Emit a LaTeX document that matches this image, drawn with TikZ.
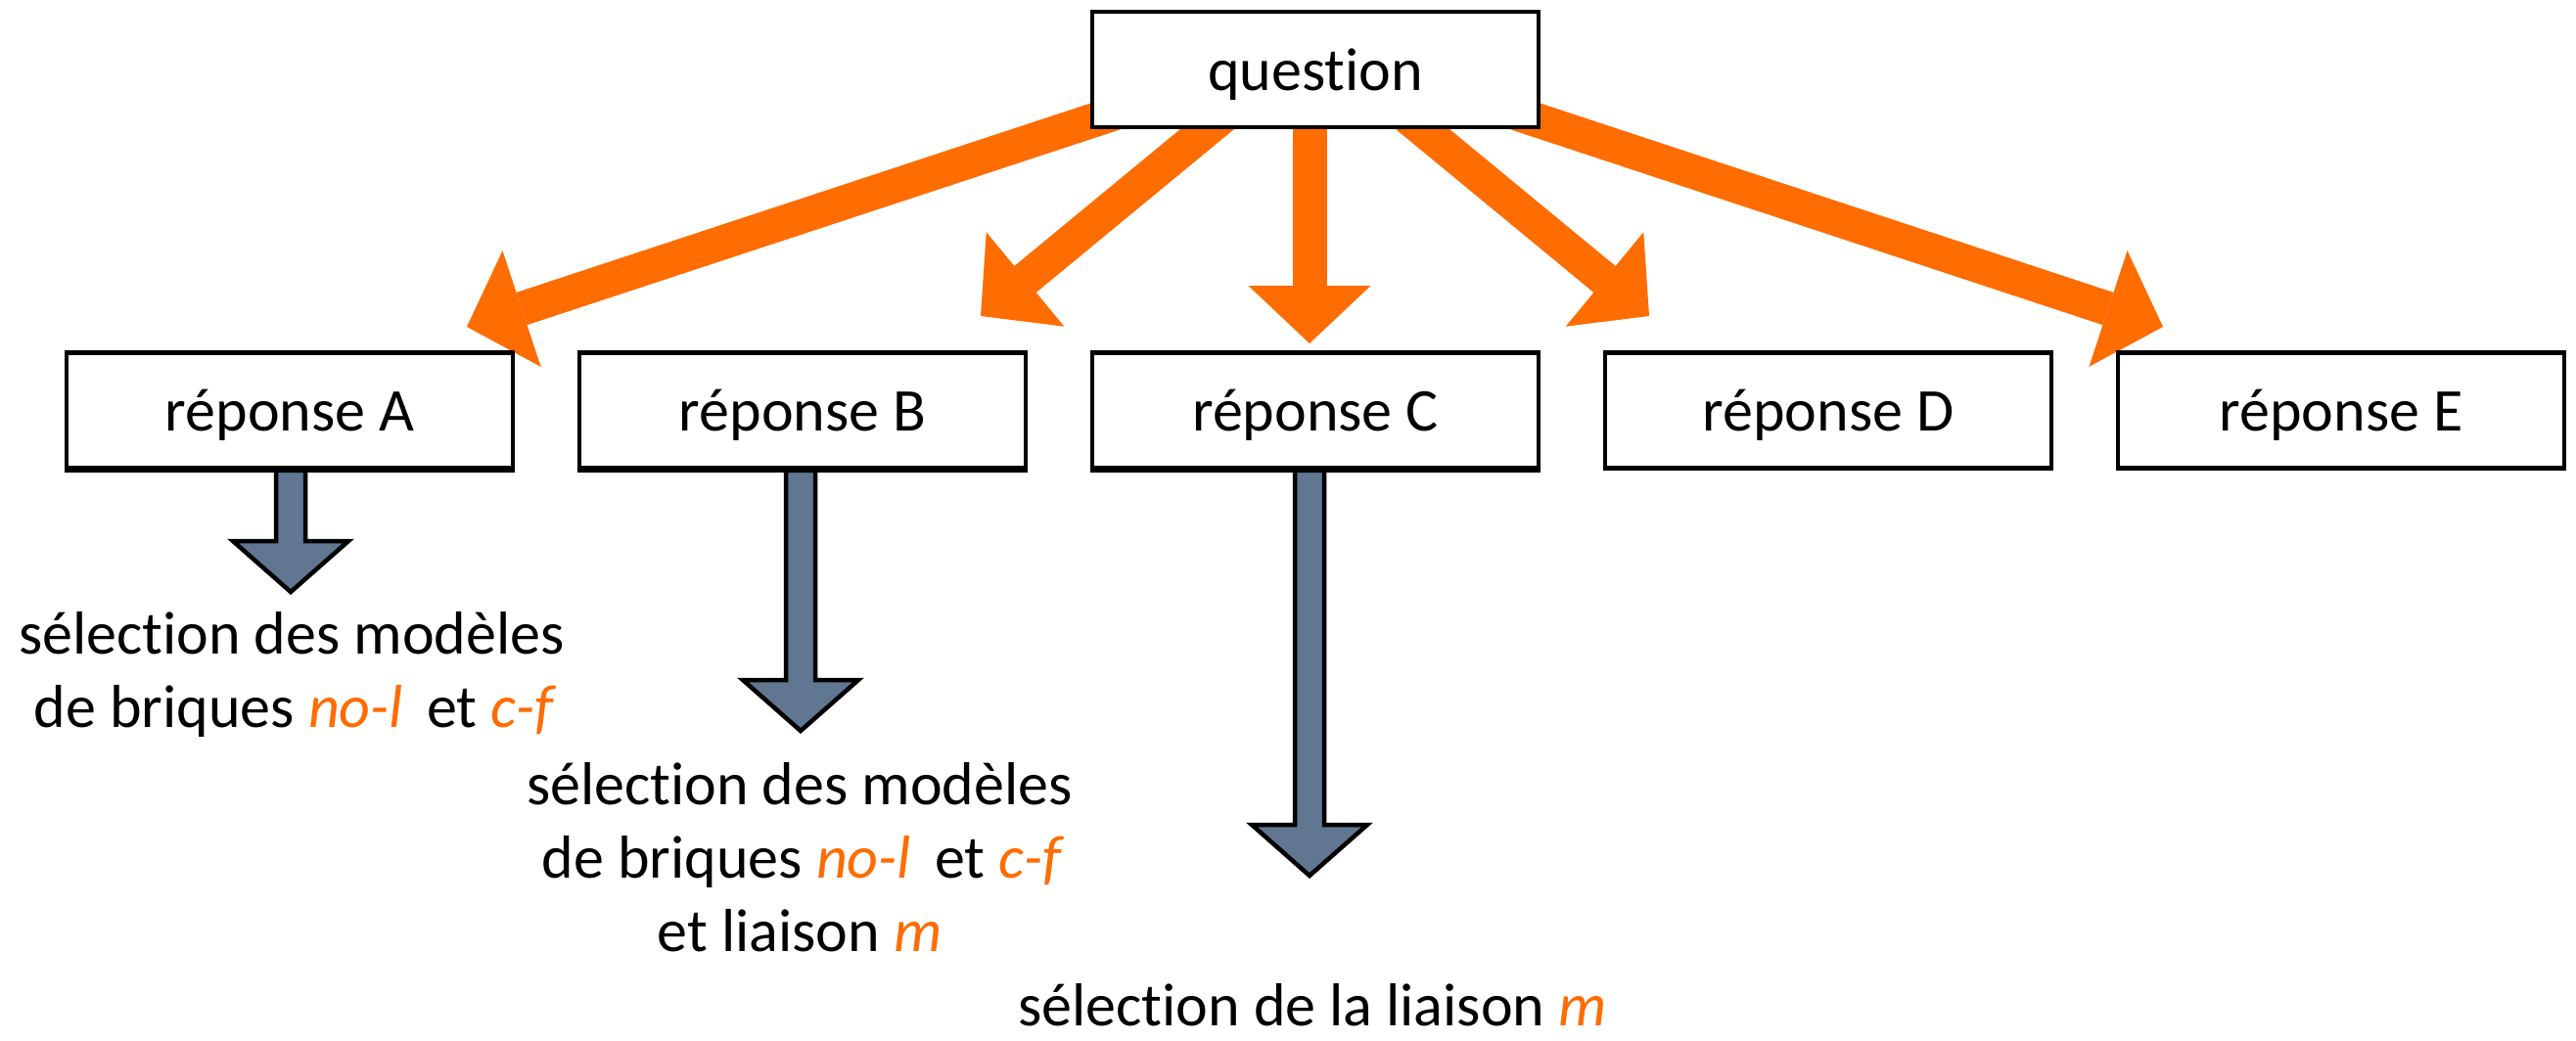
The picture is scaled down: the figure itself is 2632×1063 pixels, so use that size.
\documentclass[tikz,border=0pt]{standalone}
\usepackage{fontspec}
\setmainfont{Carlito}[Ligatures={NoCommon,NoRare,NoDiscretionary}]
\usetikzlibrary{arrows.meta,calc}
\definecolor{orng}{RGB}{255,108,0}
\definecolor{slate}{RGB}{96,118,145}
\newcommand{\hl}[1]{\textcolor{orng}{\itshape #1}}
\newcommand{\grayarr}[2]{%
  \draw[garrow] ($(#1)+(-15,0)$) -- ($(#2)+(-15,52)$) -- ($(#2)+(-59,52)$) -- (#2)
     -- ($(#2)+(59,52)$) -- ($(#2)+(15,52)$) -- ($(#1)+(15,0)$) -- cycle;}
\begin{document}
\begin{tikzpicture}[x=1pt,y=1pt,
  box/.style={draw=black,line width=4.5pt,fill=white,minimum width=456pt,
    minimum height=118pt,inner sep=0pt,text height=42pt,text depth=0pt,
    font=\fontsize{62}{74}\selectfont},
  oarrow/.style={draw=orng,line width=35pt,
    -{Triangle[width=125pt,length=59pt,line width=0pt]}},
  garrow/.style={draw=black,line width=4.5pt,fill=slate,line join=miter},
  lbl/.style={anchor=base,inner sep=0pt,font=\fontsize{62}{74}\selectfont}]
\useasboundingbox (0,0) rectangle (2632,-1063);
\path (1344,-71) coordinate (qc);
% orange arrows: start points lie under the question box
\coordinate (sA) at (1152,-111.5); \coordinate (tA) at (477,-334);
\coordinate (sB) at (1265,-106);   \coordinate (tB) at (1002,-323);
\coordinate (sC) at (1338,-100);   \coordinate (tC) at (1338,-351);
\coordinate (sD) at (1422,-106);   \coordinate (tD) at (1685,-323);
\coordinate (sE) at (1536,-111.5); \coordinate (tE) at (2210,-334);
\draw[oarrow] (sA) -- (tA);
\draw[oarrow] (sB) -- (tB);
\draw[oarrow] (sC) -- (tC);
\draw[oarrow] (sD) -- (tD);
\draw[oarrow] (sE) -- (tE);
% boxes
\node[box] (q) at (qc) {question};
\node[box] (a) at (296,-419.5) {réponse A};
\node[box] (b) at (820,-419.5) {réponse B};
\node[box] (c) at (1344,-419.5) {réponse C};
\node[box] (d) at (1868,-419.5) {réponse D};
\node[box] (e) at (2392,-419.5) {réponse E};
% gray arrows
\coordinate (gA) at (297,-605);
\coordinate (gB) at (818,-747);
\coordinate (gC) at (1338,-895);
\coordinate (gAt) at (gA |- a.south);
\coordinate (gBt) at (gB |- b.south);
\coordinate (gCt) at (gC |- c.south);
\grayarr{gAt}{gA}
\grayarr{gBt}{gB}
\grayarr{gCt}{gC}
% redraw box bottoms over the shaft tops
\draw[line width=4.5pt] (a.south west) -- (a.south east);
\draw[line width=4.5pt] (b.south west) -- (b.south east);
\draw[line width=4.5pt] (c.south west) -- (c.south east);
% labels
\node[lbl] (tA1) at (298,-668) {sélection des modèles};
\node[lbl] (tA2) at (300,-743) {de briques \hl{no-l}\hspace{10pt} et \hl{c-f}};
\node[lbl] (tB1) at (817,-822) {sélection des modèles};
\node[lbl] (tB2) at (819,-897) {de briques \hl{no-l}\hspace{10pt} et \hl{c-f}};
\node[lbl] (tB3) at (817,-972) {et liaison \hl{m}};
\node[lbl] (tC1) at (1341,-1048) {sélection de la liaison \hl{m}};
\end{tikzpicture}
\end{document}
